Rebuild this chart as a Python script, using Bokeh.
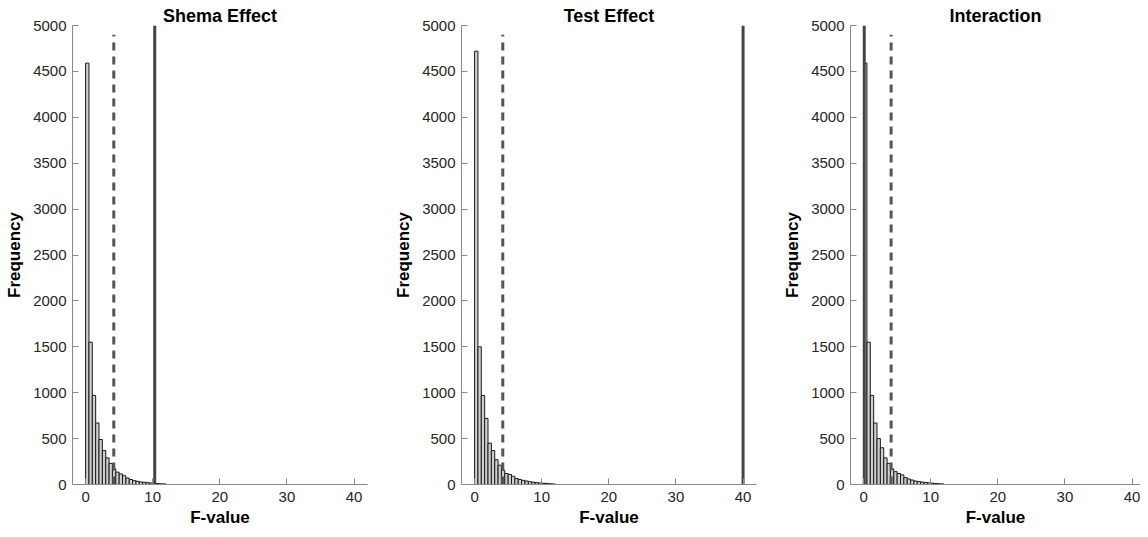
from bokeh.plotting import figure
from bokeh.layouts import row
from bokeh.models import FixedTicker, Range1d
from bokeh.embed import file_html
from bokeh.resources import INLINE

# ---------------- data ----------------
titles = ["Shema Effect", "Test Effect", "Interaction"]
bin_width = 0.5
shema_counts = [4590, 1550, 970, 670, 490, 370, 290, 230, 170, 135, 115, 95,
                70, 55, 42, 35, 28, 24, 20, 16, 13, 10, 8, 6]
test_counts = [4720, 1500, 970, 720, 450, 370, 270, 210, 155, 120, 110, 90,
               65, 55, 45, 38, 30, 25, 20, 17, 14, 11, 8, 6]
inter_counts = [4590, 1550, 970, 670, 500, 400, 290, 230, 170, 140, 120, 105,
                75, 60, 48, 38, 32, 26, 22, 18, 14, 11, 8, 6]
critical_f = [4.2, 4.2, 4.1]
critical_top = 4900
observed_f = [10.3, 40.0, 0.1]
observed_top = 5000
y_ticks = list(range(0, 5001, 500))
x_ticks = [0, 10, 20, 30, 40]

all_counts = [shema_counts, test_counts, inter_counts]

FONT = "Liberation Sans"
widths = [389, 389, 362]
frame_w = 295
px_per_unit = frame_w / (42.0 + 1.95)

figs = []
for i in range(3):
    counts = all_counts[i]
    left = [k * bin_width for k in range(len(counts))]
    right = [(k + 1) * bin_width for k in range(len(counts))]
    w = widths[i]
    rb = w - 72 - frame_w if i < 2 else 0
    fw = w - 72 - rb
    x0 = -1.95
    x1 = x0 + fw / px_per_unit
    p = figure(width=w, height=529, output_backend="svg", toolbar_location=None,
               x_range=Range1d(x0, x1), y_range=Range1d(0, 5000),
               min_border_left=72, min_border_right=rb, min_border_top=25,
               min_border_bottom=30, title=titles[i])
    p.outline_line_color = None
    p.background_fill_color = "white"
    p.border_fill_color = "white"
    p.grid.visible = False

    p.title.text_font = FONT
    p.title.text_font_size = "18px"
    p.title.text_font_style = "bold"
    p.title.align = "center"
    p.title.text_color = "#000000"
    p.title.standoff = 0

    p.quad(left=left, right=right, bottom=0, top=counts,
           fill_color="#cfcfcf", line_color="#1a1a1a", line_width=1)

    p.segment(x0=[critical_f[i]], y0=[0], x1=[critical_f[i]], y1=[critical_top],
              line_color="#555555", line_width=3, line_dash="8 6")
    p.segment(x0=[observed_f[i]], y0=[0], x1=[observed_f[i]], y1=[observed_top],
              line_color="#444444", line_width=3)

    for ax in (p.xaxis[0], p.yaxis[0]):
        ax.axis_line_color = "#8a8a8a"
        ax.major_tick_line_color = "#8a8a8a"
        ax.minor_tick_line_color = None
        ax.major_tick_in = 6
        ax.major_tick_out = 0
        ax.major_label_text_font = FONT
        ax.major_label_text_font_size = "15px"
        ax.major_label_text_color = "#262626"
        ax.axis_label_text_font = FONT
        ax.axis_label_text_font_size = "17px"
        ax.axis_label_text_font_style = "bold"
        ax.axis_label_text_color = "#000000"
    p.xaxis[0].ticker = FixedTicker(ticks=x_ticks)
    p.yaxis[0].ticker = FixedTicker(ticks=y_ticks)
    p.xaxis[0].axis_label = "F-value"
    p.yaxis[0].axis_label = "Frequency"
    p.xaxis[0].major_label_standoff = 7
    p.xaxis[0].axis_label_standoff = 3
    p.yaxis[0].major_label_standoff = 6
    p.yaxis[0].axis_label_standoff = 6
    figs.append(p)

layout = row(*figs, spacing=0)
open("out.html", "w").write(file_html(layout, INLINE))
